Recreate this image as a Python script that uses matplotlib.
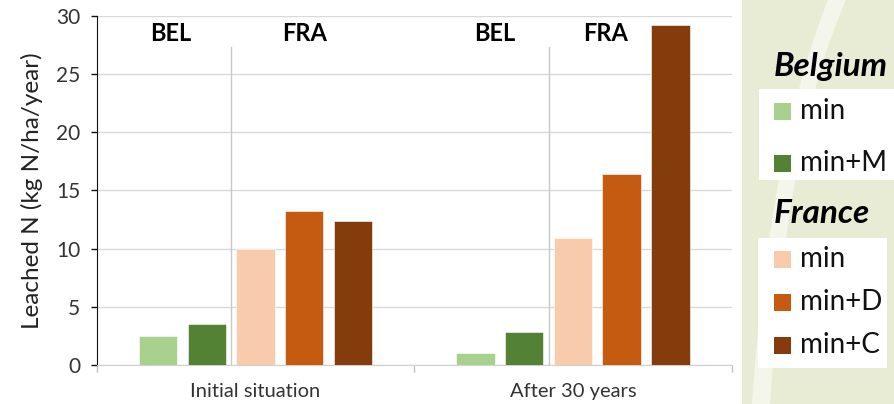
import matplotlib
matplotlib.use("Agg")
import matplotlib.pyplot as plt
from matplotlib.patches import Rectangle, PathPatch
from matplotlib.path import Path

plt.rcParams['font.family'] = ['Lato', 'DejaVu Sans']

# Leached N per scenario, one entry per period
periods = ["Initial situation", "After 30 years"]
bel_min = [2.5, 1.0]
bel_min_m = [3.5, 2.8]
fra_min = [10.0, 10.9]
fra_min_d = [13.2, 16.4]
fra_min_c = [12.4, 29.2]

series = [bel_min, bel_min_m, fra_min, fra_min_d, fra_min_c]
colors = ["#a9d18e", "#548235", "#f8cbad", "#c55a11", "#843c0c"]

bel_labels = ["min", "min+M"]
fra_labels = ["min", "min+D", "min+C"]

W, H = 895, 404
fig = plt.figure(figsize=(W / 100, H / 100), dpi=100)

# decorative panel behind the legend (pixel coordinates)
bg = fig.add_axes([0, 0, 1, 1], zorder=0)
bg.set_xlim(0, W)
bg.set_ylim(H, 0)
bg.axis("off")
bg.add_patch(Rectangle((742, 0), W - 742, H, color="#e9ecd4", lw=0))
swoosh = Path([(828, 0), (792, 90), (765, 220), (752, 404),
               (770, 404), (782, 220), (806, 90), (846, 0), (828, 0)],
              [Path.MOVETO, Path.CURVE4, Path.CURVE4, Path.CURVE4,
               Path.LINETO, Path.CURVE4, Path.CURVE4, Path.CURVE4, Path.CLOSEPOLY])
bg.add_patch(PathPatch(swoosh, facecolor="white", alpha=0.55, lw=0))
bg.add_patch(Rectangle((759, 89), W - 759, 91, color="white", lw=0))
bg.add_patch(Rectangle((758, 238), 129, 130, color="white", lw=0))

bg.text(774, 76, "Belgium", fontsize=24, fontweight="bold", fontstyle="italic",
        va="baseline", ha="left")
bg.text(774, 223, "France", fontsize=24, fontweight="bold", fontstyle="italic",
        va="baseline", ha="left")

rows_bel = [111, 163]
rows_fra = [259, 302, 345]
for lab, col, yc in zip(bel_labels + fra_labels, colors, rows_bel + rows_fra):
    bg.add_patch(Rectangle((774, yc - 8.5), 17, 17, color=col, lw=0))
    bg.text(800, yc, lab, fontsize=20, va="center", ha="left", color="#111111")

# main chart
ax = fig.add_axes([96.7 / W, 1 - 365 / H, (731.7 - 96.7) / W, (365 - 15.7) / H], zorder=1)
pitch = 0.1535
width = 0.121
centers = [0.5, 1.5]
for i, (vals, col) in enumerate(zip(series, colors)):
    xs = [c + (i - 2) * pitch for c in centers]
    ax.bar(xs, vals, width=width, color=col, edgecolor="white", linewidth=0.4, zorder=3)

# separators between the Belgian and French bars
for c in centers:
    ax.plot([c - 0.077, c - 0.077], [0, 27.3], color="#c8c8c8", lw=1, zorder=2)

group_text = [(0.234, "BEL"), (0.656, "FRA"), (1.253, "BEL"), (1.603, "FRA")]
for x, t in group_text:
    ax.text(x, 28.5, t, fontsize=17, fontweight="bold", ha="center", va="center", zorder=4)

ax.set_xlim(0, 2)
ax.set_ylim(0, 30)
ax.set_yticks(range(0, 31, 5))
ax.grid(axis="y", color="#d9d9d9", lw=1, zorder=0)
ax.set_axisbelow(True)

ax.set_xticks(centers)
ax.set_xticklabels(periods, fontsize=14.5, color="#333333")
ax.set_xticks([0, 1, 2], minor=True)
ax.tick_params(axis="x", which="major", length=0, pad=13)
ax.tick_params(axis="x", which="minor", length=5, color="#bfbfbf", width=1)
ax.tick_params(axis="y", length=4, width=1, labelsize=15, pad=8, colors="#333333")
ax.tick_params(axis="y", color="#111111")

for s in ["top", "right"]:
    ax.spines[s].set_visible(False)
ax.spines["left"].set_color("#111111")
ax.spines["bottom"].set_color("#d0d0d0")

ax.set_ylabel("Leached N (kg N/ha/year)", fontsize=17.5, color="#222222")
ax.yaxis.set_label_coords(-0.085, 0.5)

fig.savefig("out.png", dpi=100)
